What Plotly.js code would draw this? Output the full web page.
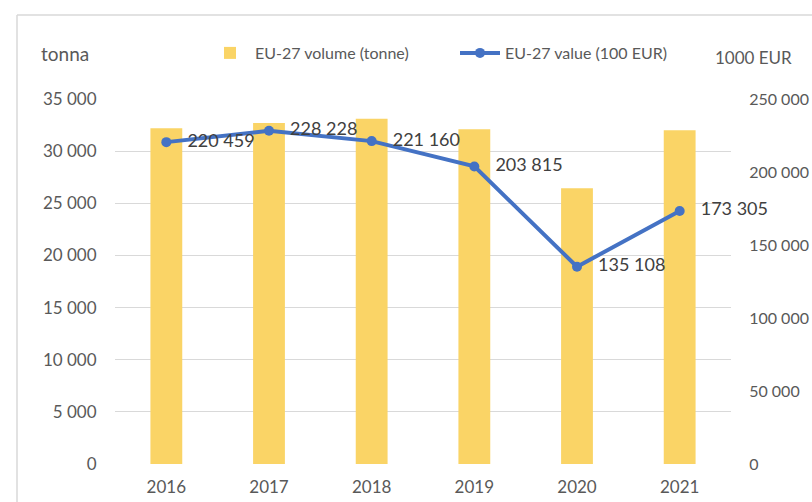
<!DOCTYPE html>
<html><head><meta charset="utf-8">
<script src="https://cdn.plot.ly/plotly-3.0.1.min.js"></script>
<style>html,body{margin:0;padding:0;background:#fff}#c{width:812px;height:502px}</style>
</head><body><div id="c"></div>
<script>
const years = ['2016','2017','2018','2019','2020','2021'];
const volumeTonne = [32200, 32700, 33100, 32100, 26450, 32000];
const value100Eur = [220459, 228228, 221160, 203815, 135108, 173305];
const valueLabels = ['220 459','228 228','221 160','203 815','135 108','173 305'];

const F = "Lato, 'Open Sans', sans-serif";
const L = 115, R = 731, T = 99, B = 464;
const px = x => (x - L) / (R - L);
const py = y => (B - y) / (B - T);

const traces = [
  {type:'bar', x: years, y: volumeTonne, name:'EU-27 volume (tonne)',
   marker:{color:'#fad466'}, width:0.31, hoverinfo:'skip'},
  {type:'scatter', mode:'lines+markers+text', x: years, y: value100Eur, yaxis:'y2',
   name:'EU-27 value (100 EUR)', line:{color:'#4472c4', width:4},
   marker:{color:'#4472c4', size:10}, text: valueLabels,
   texttemplate:'\u00a0\u00a0\u00a0%{text}', textposition:'middle right',
   textfont:{family:F, size:18, color:'#404040'}, cliponaxis:false}
];

const layout = {
  width:812, height:502, paper_bgcolor:'#fff', plot_bgcolor:'#fff',
  margin:{l:L, r:812-R, t:T, b:502-B},
  separators:'. ',
  font:{family:F, size:16, color:'#595959'},
  bargap:0.69,
  xaxis:{type:'category', showgrid:false, showline:false, zeroline:false,
    ticks:'outside', ticklen:8, tickcolor:'rgba(0,0,0,0)', tickfont:{size:17, color:'#595959'}},
  yaxis:{range:[0,35000], dtick:5000, tickformat:',d', gridcolor:'#d9d9d9', gridwidth:1,
    zeroline:false, showline:false, ticks:'outside', ticklen:14, tickcolor:'rgba(0,0,0,0)',
    tickfont:{size:17, color:'#595959'}},
  yaxis2:{overlaying:'y', side:'right', range:[0,250000], dtick:50000, tickformat:',d',
    showgrid:false, zeroline:false, showline:false, ticks:'outside', ticklen:14,
    tickcolor:'rgba(0,0,0,0)', tickfont:{size:16, color:'#595959'}},
  showlegend:true,
  legend:{orientation:'h', x:px(205), y:py(53), xanchor:'left', yanchor:'middle',
    font:{size:16, color:'#595959'}, itemwidth:40, entrywidth:195, traceorder:'normal',
    bgcolor:'rgba(0,0,0,0)'},
  annotations:[
    {text:'tonna', xref:'paper', yref:'paper', x:px(39), y:py(54), xanchor:'left', yanchor:'middle',
     showarrow:false, font:{size:19, color:'#595959'}},
    {text:'1000 EUR', xref:'paper', yref:'paper', x:px(713), y:py(58), xanchor:'left', yanchor:'middle',
     showarrow:false, font:{size:17, color:'#595959'}}
  ],
  shapes:[
    {type:'line', xref:'paper', yref:'paper', x0:px(17), x1:px(812), y0:py(15), y1:py(15),
     line:{color:'#d9d9d9', width:1.5}},
    {type:'line', xref:'paper', yref:'paper', x0:px(17), x1:px(17), y0:py(15), y1:py(502),
     line:{color:'#d9d9d9', width:1.5}}
  ]
};
Plotly.newPlot('c', traces, layout, {displayModeBar:false, staticPlot:true});
</script></body></html>
